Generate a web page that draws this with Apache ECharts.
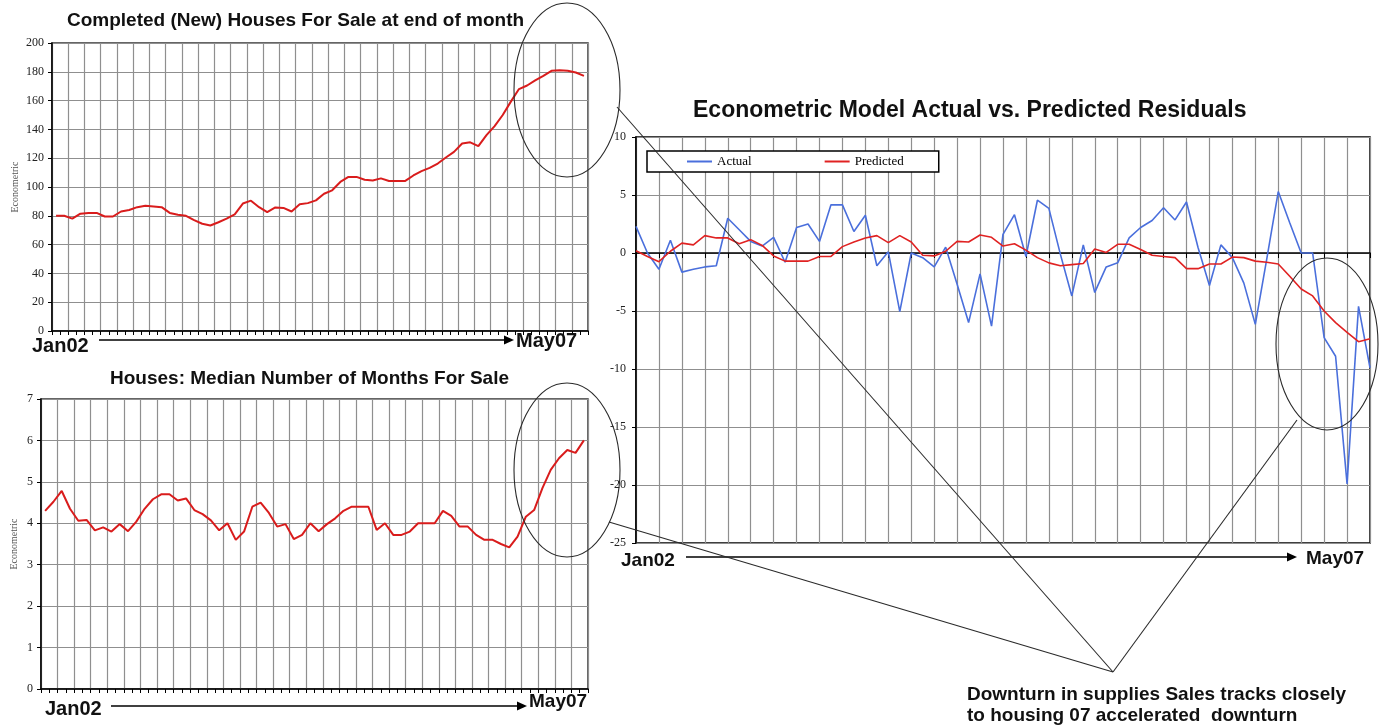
<!DOCTYPE html>
<html>
<head>
<meta charset="utf-8">
<title>Housing supply vs econometric residuals</title>
<script src="https://cdn.jsdelivr.net/npm/echarts@6/dist/echarts.min.js"></script>
<style>
  html, body { margin: 0; padding: 0; background: #fff; }
  #chart { width: 1384px; height: 726px; }
</style>
</head>
<body>
<div id="chart"></div>
<script>
// monthly values
const completedForSale = [
  80, 80, 78, 81.5, 82, 82, 79.5, 79.5, 83, 84, 86, 87,
  86.5, 86, 82, 80.7, 80, 77, 74.5, 73.3, 75.5, 78, 81, 88.5,
  90.5, 86, 82.5, 85.8, 85.5, 83, 88, 88.8, 90.7, 95.3, 97.7, 103.5,
  107, 107, 105, 104.5, 106, 104.2, 104.2, 104.2, 108, 111, 113.3, 116.3,
  120.5, 124.4, 130.2, 131, 128.4, 136, 142.3, 150, 159.3, 168, 170.5, 174,
  177.2, 180.7, 181, 180.7, 179.5, 177.2
];
const monthsForSale = [
  4.3, 4.52, 4.78, 4.35, 4.06, 4.08, 3.83, 3.9, 3.8, 3.98, 3.81, 4.04,
  4.35, 4.58, 4.7, 4.7, 4.55, 4.6, 4.32, 4.22, 4.07, 3.83, 4.0, 3.6,
  3.8, 4.4, 4.5, 4.25, 3.92, 3.98, 3.62, 3.72, 4.0, 3.81, 3.98, 4.12,
  4.3, 4.4, 4.4, 4.4, 3.84, 4.0, 3.72, 3.72, 3.8, 4.0, 4.0, 4.0,
  4.3, 4.18, 3.92, 3.92, 3.72, 3.6, 3.6, 3.5, 3.42, 3.68, 4.16, 4.32,
  4.85, 5.29, 5.57, 5.77, 5.7, 6.0
];
const actualResid = [
  2.3, 0.0, -1.4, 1.1, -1.65, -1.4, -1.2, -1.1, 3.0, 2.0, 1.0, 0.6,
  1.35, -0.8, 2.2, 2.5, 1.0, 4.15, 4.15, 1.85, 3.25, -1.1, 0.1, -5.05,
  0.0, -0.4, -1.2, 0.5, -2.7, -6.0, -1.8, -6.3, 1.6, 3.3, -0.3, 4.55,
  3.85, -0.1, -3.7, 0.7, -3.4, -1.2, -0.85, 1.3, 2.2, 2.8, 3.9, 2.85,
  4.4, 0.5, -2.8, 0.7, -0.4, -2.6, -6.15, -0.5, 5.3, 2.6, 0, 0,
  -7.3, -8.9, -19.9, -4.6, -9.9
];
const predictedResid = [
  0.2, -0.3, -0.75, 0.15, 0.85, 0.7, 1.5, 1.3, 1.3, 0.8, 1.15, 0.65,
  -0.25, -0.7, -0.7, -0.7, -0.3, -0.3, 0.55, 0.95, 1.3, 1.5, 0.9, 1.5,
  0.95, -0.2, -0.25, 0.15, 1.0, 0.95, 1.55, 1.35, 0.6, 0.8, 0.25, -0.4,
  -0.85, -1.1, -1.0, -0.9, 0.35, 0.05, 0.75, 0.75, 0.3, -0.2, -0.3, -0.4,
  -1.35, -1.35, -0.95, -0.95, -0.35, -0.4, -0.7, -0.8, -0.95, -2.0, -3.1, -3.7,
  -5.0, -6.0, -6.85, -7.65, -7.4
];

const MONTH_NAMES = ['Jan', 'Feb', 'Mar', 'Apr', 'May', 'Jun', 'Jul', 'Aug', 'Sep', 'Oct', 'Nov', 'Dec'];
function monthLabels(count) {
  const out = [];
  for (let i = 0; i < count; i++) {
    out.push(MONTH_NAMES[i % 12] + String(2 + Math.floor(i / 12)).padStart(2, '0'));
  }
  return out;
}
const supplyMonths = monthLabels(completedForSale.length);   // Jan02 .. Jun07
const residMonths = monthLabels(actualResid.length);          // Jan02 .. May07

const SANS = '"Liberation Sans", Arial, sans-serif';
const SERIF = '"Liberation Serif", "Times New Roman", serif';
const GRID_GRAY = '#8f8f8f';
const INK = '#2a2a2a';

const chart = echarts.init(document.getElementById('chart'));

const gridLines = { show: true, lineStyle: { color: GRID_GRAY, width: 1.2 } };
const axisLabelStyle = { fontFamily: SERIF, fontSize: 12, color: '#222' };

function monthAxis(gridIndex, data, boundaryGap) {
  return {
    type: 'category',
    gridIndex,
    data,
    boundaryGap,
    axisLabel: { show: false },
    axisLine: { lineStyle: { color: '#000', width: 1.5 } },
    axisTick: { show: true, interval: boundaryGap ? 0 : 1, length: 4, lineStyle: { color: '#000' } },
    splitLine: { show: true, interval: 1, lineStyle: { color: GRID_GRAY, width: 1.2 } },
  };
}

function valueAxis(gridIndex, min, max, interval, extra) {
  return Object.assign({
    type: 'value',
    gridIndex,
    min,
    max,
    interval,
    axisLine: { show: true, lineStyle: { color: '#000', width: 1.5 } },
    axisTick: { show: true, length: 4, lineStyle: { color: '#000' } },
    axisLabel: Object.assign({ margin: 8 }, axisLabelStyle),
    splitLine: gridLines,
  }, extra || {});
}

const yName = (gap) => ({
  name: 'Econometric',
  nameLocation: 'middle',
  nameRotate: 90,
  nameGap: gap,
  nameTextStyle: { fontFamily: SERIF, fontSize: 10, color: '#555' },
});

function arrow(x1, x2, y) {
  return [
    { type: 'line', z: 50, shape: { x1, y1: y, x2: x2 - 8, y2: y }, style: { stroke: '#000', lineWidth: 1.6 } },
    { type: 'polygon', z: 50, shape: { points: [[x2 - 10, y - 4.5], [x2, y], [x2 - 10, y + 4.5]] }, style: { fill: '#000' } },
  ];
}

function label(text, left, top, size) {
  return { type: 'text', z: 50, left, top, style: { text, font: 'bold ' + size + 'px ' + SANS, fill: '#111' } };
}

const ring = (cx, cy, rx, ry) => ({
  type: 'ellipse', z: 60, shape: { cx, cy, rx, ry },
  style: { fill: 'none', stroke: INK, lineWidth: 1.1 },
});

const pointer = (x1, y1, x2, y2) => ({
  type: 'line', z: 60, shape: { x1, y1, x2, y2 },
  style: { stroke: INK, lineWidth: 1.1 },
});

const option = {
  animation: false,
  backgroundColor: '#fff',
  title: [
    { text: 'Completed (New) Houses For Sale at end of month', left: 67, top: 11, padding: 0,
      textStyle: { fontFamily: SANS, fontSize: 19, fontWeight: 'bold', color: '#111' } },
    { text: 'Houses: Median Number of Months For Sale', left: 110, top: 369, padding: 0,
      textStyle: { fontFamily: SANS, fontSize: 19, fontWeight: 'bold', color: '#111' } },
    { text: 'Econometric Model Actual vs. Predicted Residuals', left: 693, top: 99, padding: 0,
      textStyle: { fontFamily: SANS, fontSize: 23, fontWeight: 'bold', color: '#111' } },
  ],
  legend: {
    data: ['Actual', 'Predicted'],
    left: 647,
    top: 151,
    orient: 'horizontal',
    padding: [4, 35, 4, 40],
    itemGap: 73,
    itemWidth: 25,
    itemHeight: 2,
    icon: 'rect',
    selectedMode: false,
    backgroundColor: '#fff',
    borderColor: '#000',
    borderWidth: 1.5,
    borderRadius: 0,
    textStyle: { fontFamily: SERIF, fontSize: 13, color: '#000' },
  },
  grid: [
    { left: 52, top: 43, width: 536, height: 288, show: true, borderColor: '#333', borderWidth: 1.5 },
    { left: 41, top: 399, width: 547, height: 290, show: true, borderColor: '#333', borderWidth: 1.5 },
    { left: 636, top: 137, width: 734, height: 406, show: true, borderColor: '#000', borderWidth: 1.5 },
  ],
  xAxis: [
    monthAxis(0, supplyMonths, true),
    monthAxis(1, supplyMonths, true),
    Object.assign(monthAxis(2, residMonths, false), {
      axisLine: { onZero: true, lineStyle: { color: '#000', width: 1.6 } },
      axisTick: { show: true, interval: 1, length: 5, lineStyle: { color: '#000' } },
    }),
  ],
  yAxis: [
    valueAxis(0, 0, 200, 20, yName(32)),
    valueAxis(1, 0, 7, 1, yName(22)),
    valueAxis(2, -25, 10, 5, { axisLabel: Object.assign({ margin: 10 }, axisLabelStyle) }),
  ],
  series: [
    {
      name: 'Completed for sale', type: 'line', xAxisIndex: 0, yAxisIndex: 0,
      data: completedForSale, symbol: 'none',
      lineStyle: { color: '#d91c1c', width: 2 }, itemStyle: { color: '#d91c1c' },
    },
    {
      name: 'Median months for sale', type: 'line', xAxisIndex: 1, yAxisIndex: 1,
      data: monthsForSale, symbol: 'none',
      lineStyle: { color: '#d91c1c', width: 2 }, itemStyle: { color: '#d91c1c' },
    },
    {
      name: 'Actual', type: 'line', xAxisIndex: 2, yAxisIndex: 2,
      data: actualResid, symbol: 'none',
      lineStyle: { color: '#4a6fdc', width: 1.6 }, itemStyle: { color: '#4a6fdc' },
    },
    {
      name: 'Predicted', type: 'line', xAxisIndex: 2, yAxisIndex: 2,
      data: predictedResid, symbol: 'none',
      lineStyle: { color: '#e02222', width: 1.6 }, itemStyle: { color: '#e02222' },
    },
  ],
  graphic: [
    ...arrow(99, 514, 340),
    label('Jan02', 32, 336, 20),
    label('May07', 516, 331, 20),
    ...arrow(111, 527, 706),
    label('Jan02', 45, 699, 20),
    label('May07', 529, 692, 19),
    ...arrow(686, 1297, 557),
    label('Jan02', 621, 551, 19),
    label('May07', 1306, 549, 19),
    // circled regions and the pointers to the note
    ring(567, 90, 53, 87),
    ring(567, 470, 53, 87),
    ring(1327, 344, 51, 86),
    pointer(617, 107, 1113, 672),
    pointer(609, 522, 1113, 672),
    pointer(1297, 420, 1113, 672),
    {
      type: 'text', z: 50, left: 967, top: 684,
      style: {
        text: 'Downturn in supplies Sales tracks closely\nto housing 07 accelerated  downturn',
        font: 'bold 19px ' + SANS, fill: '#111', lineHeight: 21,
      },
    },
  ],
};

chart.setOption(option);
</script>
</body>
</html>
